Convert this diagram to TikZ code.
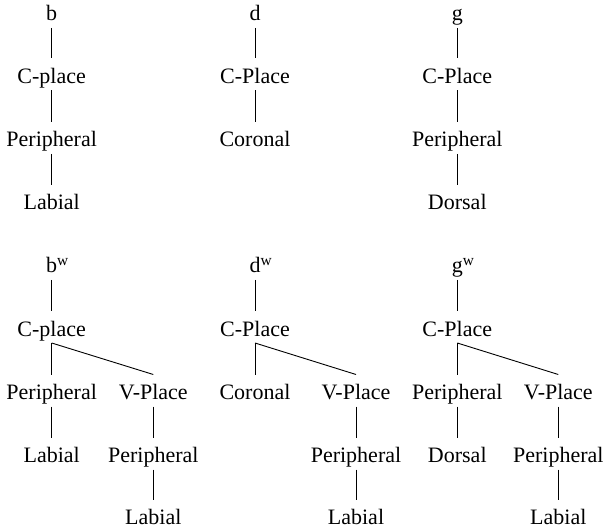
\documentclass[tikz,border=0pt]{standalone}
\usepackage{fontspec}
\setmainfont{Liberation Serif}
\begin{document}
\begin{tikzpicture}[x=1pt,y=-1pt,
  lab/.style={anchor=base,inner sep=0pt,font=\fontsize{22}{26}\selectfont},
  br/.style={line width=0.9pt}]
\useasboundingbox (0,0) rectangle (605,529);
% top row
\node[lab] (b0) at (51.7,21) {b};
\node[lab] (b1) at (51.7,83.5) {C-place};
\node[lab] (b2) at (51.7,147) {Peripheral};
\node[lab] (b3) at (51.7,210) {Labial};
\node[lab] (d0) at (255,21) {d};
\node[lab] (d1) at (255,83.5) {C-Place};
\node[lab] (d2) at (255,147) {Coronal};
\node[lab] (g0) at (457.3,21) {g};
\node[lab] (g1) at (457.3,83.5) {C-Place};
\node[lab] (g2) at (457.3,147) {Peripheral};
\node[lab] (g3) at (457.3,210) {Dorsal};
\foreach \u/\v in {b0/b1,b1/b2,b2/b3,d0/d1,d1/d2,g0/g1,g1/g2,g2/g3}
  \draw[br] ([yshift=-7]\u.base) -- ([yshift=25]\v.base);
% bottom row
\node[lab] (bw0) at (51.7,273) {b\rlap{\textsuperscript{w}}};
\node[lab] (bw1) at (51.7,336) {C-place};
\node[lab] (bw2) at (51.7,399.5) {Peripheral};
\node[lab] (bw3) at (51.7,462.5) {Labial};
\node[lab] (bv2) at (153.3,399.5) {V-Place};
\node[lab] (bv3) at (153.3,462.5) {Peripheral};
\node[lab] (bv4) at (153.3,524.5) {Labial};
\node[lab] (dw0) at (255,273) {d\rlap{\textsuperscript{w}}};
\node[lab] (dw1) at (255,336) {C-Place};
\node[lab] (dw2) at (255,399.5) {Coronal};
\node[lab] (dv2) at (356,399.5) {V-Place};
\node[lab] (dv3) at (356,462.5) {Peripheral};
\node[lab] (dv4) at (356,524.5) {Labial};
\node[lab] (gw0) at (457.3,273) {g\rlap{\textsuperscript{w}}};
\node[lab] (gw1) at (457.3,336) {C-Place};
\node[lab] (gw2) at (457.3,399.5) {Peripheral};
\node[lab] (gw3) at (457.3,462.5) {Dorsal};
\node[lab] (gv2) at (558.3,399.5) {V-Place};
\node[lab] (gv3) at (558.3,462.5) {Peripheral};
\node[lab] (gv4) at (558.3,524.5) {Labial};
\foreach \u/\v in {bw0/bw1,bw1/bw2,bw2/bw3,bw1/bv2,bv2/bv3,bv3/bv4,
                   dw0/dw1,dw1/dw2,dw1/dv2,dv2/dv3,dv3/dv4,
                   gw0/gw1,gw1/gw2,gw2/gw3,gw1/gv2,gv2/gv3,gv3/gv4}
  \draw[br] ([yshift=-7]\u.base) -- ([yshift=25]\v.base);
\end{tikzpicture}
\end{document}
